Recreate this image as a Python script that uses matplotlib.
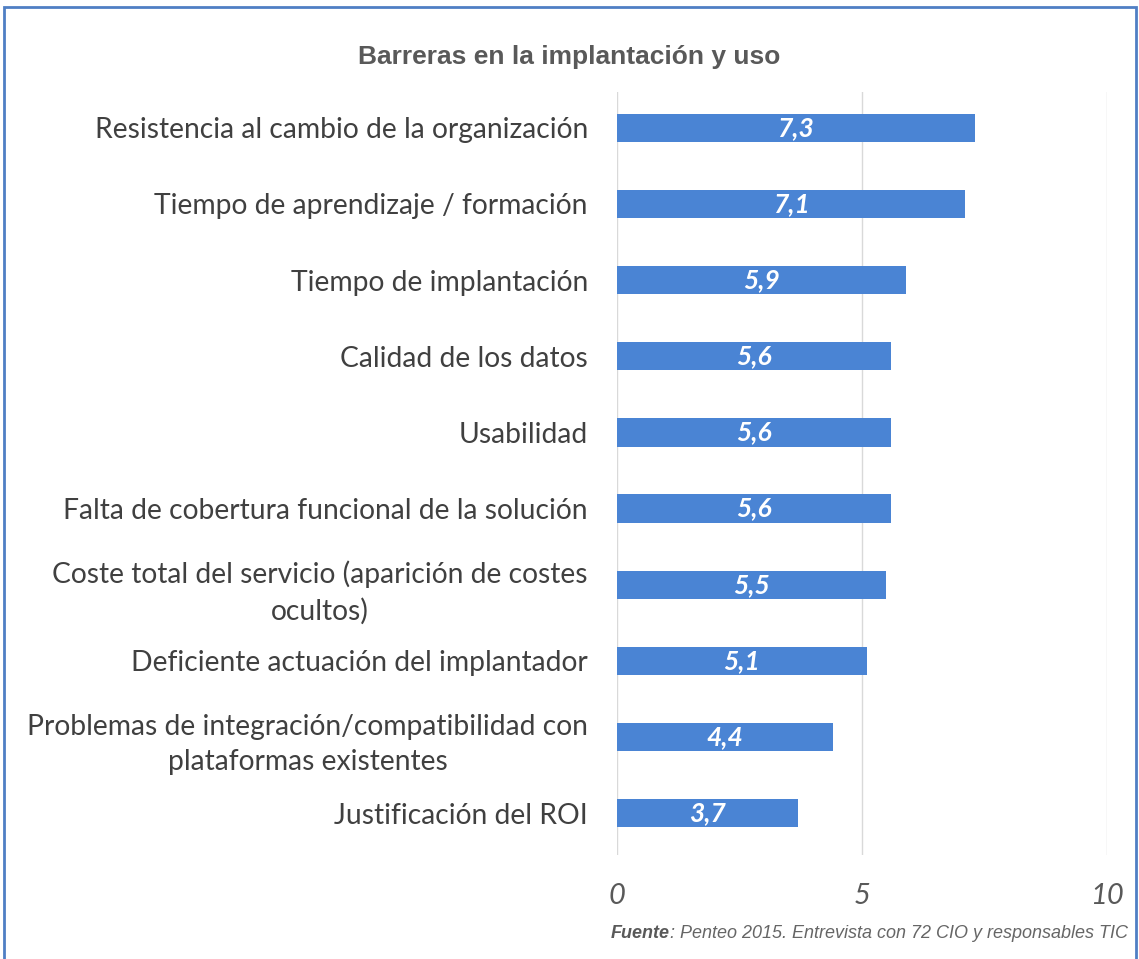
import matplotlib.pyplot as plt
from matplotlib.patches import Rectangle

# Data
categories = [
    "Resistencia al cambio de la organización",
    "Tiempo de aprendizaje / formación",
    "Tiempo de implantación",
    "Calidad de los datos",
    "Usabilidad",
    "Falta de cobertura funcional de la solución",
    "Coste total del servicio (aparición de costes\nocultos)",
    "Deficiente actuación del implantador",
    "Problemas de integración/compatibilidad con\nplataformas existentes",
    "Justificación del ROI",
]
values = [7.3, 7.1, 5.9, 5.6, 5.6, 5.6, 5.5, 5.1, 4.4, 3.7]
x_ticks = [0, 5, 10]

fig = plt.figure(figsize=(11.39, 9.59), dpi=100)
ax = fig.add_axes([0.5417, 0.1084, 0.4302, 0.7956])

pos = list(range(len(categories)))
ax.barh(pos, values, height=0.37, color="#4a84d4", zorder=2)
for i, v in zip(pos, values):
    ax.text(v / 2, i, f"{v:.1f}".replace(".", ","), ha="center", va="center",
            color="white", fontsize=19, fontstyle="italic", fontweight="bold",
            family="Lato", zorder=3)

ax.set_ylim(len(categories) - 0.45, -0.47)
ax.set_xlim(0, 10)
ax.set_xticks(x_ticks)
ax.set_xticklabels([str(t) for t in x_ticks], fontsize=21, fontstyle="italic",
                   color="#595959", family="Lato")
ax.set_yticks(pos)
ax.set_yticklabels(categories, fontsize=20.3, color="#404040", family="Lato",
                   multialignment="center", linespacing=1.45)
ax.tick_params(axis="y", length=0, pad=21)
ax.tick_params(axis="x", length=0, pad=20)
ax.grid(axis="x", color="#d9d9d9", linewidth=1, zorder=0)
for s in ax.spines.values():
    s.set_visible(False)

fig.text(0.50, 0.941, "Barreras en la implantación y uso", ha="center", va="center",
         fontsize=19, fontweight="bold", color="#595959", family="Liberation Sans")

src = fig.text(0.9905, 0.027, ": Penteo 2015. Entrevista con 72 CIO y responsables TIC",
               ha="right", va="center", fontsize=13, fontstyle="italic",
               color="#666666", family="Liberation Sans")
fig.canvas.draw()
bb = src.get_window_extent()
fig.text(bb.x0 / fig.bbox.width, 0.027, "Fuente", ha="right", va="center",
         fontsize=13, fontstyle="italic", fontweight="bold", color="#595959",
         family="Liberation Sans")

fig.patches.append(Rectangle((0.0035, -0.1), 0.9935, 1.093, transform=fig.transFigure,
                             fill=False, edgecolor="#4f7fc4", linewidth=2))

fig.savefig("out.png", dpi=100)
